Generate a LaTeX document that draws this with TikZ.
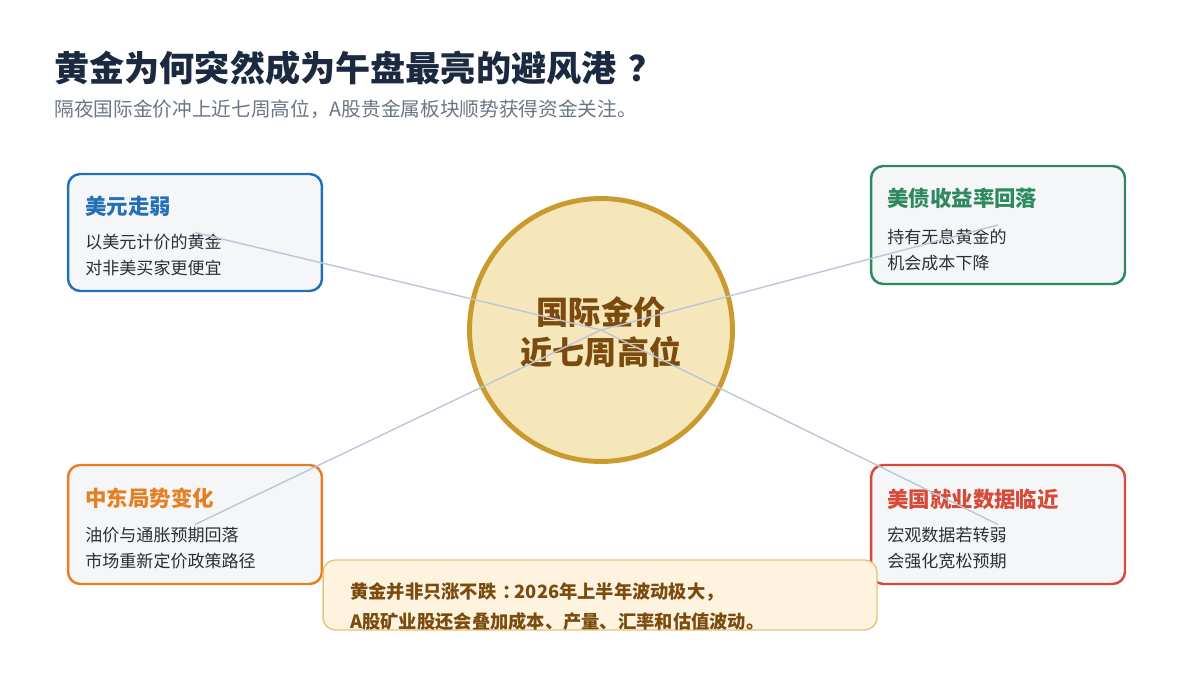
\documentclass[tikz,border=0pt]{standalone}
\usepackage{fontspec}
\setmainfont{Noto Sans CJK SC}
\usetikzlibrary{positioning}

\definecolor{titlenavy}{HTML}{1B2A41}
\definecolor{subgray}{HTML}{6B7685}
\definecolor{cardbg}{HTML}{F4F6F8}
\definecolor{bodytext}{HTML}{2B2F36}
\definecolor{usdblue}{HTML}{2470B6}
\definecolor{bondgreen}{HTML}{2E8A5E}
\definecolor{mideast}{HTML}{E67E22}
\definecolor{jobsred}{HTML}{D64A38}
\definecolor{goldfill}{HTML}{F5E7B9}
\definecolor{goldedge}{HTML}{C99A2E}
\definecolor{goldtext}{HTML}{7A4A0E}
\definecolor{notefill}{HTML}{FDF3DF}
\definecolor{noteedge}{HTML}{E9C27D}
\definecolor{linkgray}{HTML}{BCC6D8}

\begin{document}
\begin{tikzpicture}[x=0.02cm, y=-0.02cm,
  card/.style={draw=#1, line width=1.4pt, fill=cardbg, rounded corners=7pt,
    minimum width=5.08cm, minimum height=2.34cm, inner sep=0pt},
  cardtitle/.style={anchor=west, inner sep=0pt, text=#1,
    font=\fontsize{12.2}{14}\selectfont\bfseries},
  cardbody/.style={anchor=west, inner sep=0pt, align=left, text=bodytext,
    font=\fontsize{9.7}{14.4}\selectfont},
  link/.style={draw=linkgray, line width=0.8pt}]

  \useasboundingbox (0,0) rectangle (1200,675);

  % Heading
  \node[anchor=west, inner sep=0pt, text=titlenavy,
    font=\fontsize{20}{24}\selectfont\bfseries] (title) at (54,68)
    {黄金为何突然成为午盘最亮的避风港\kern0.35em？};
  \node[anchor=west, inner sep=0pt, text=subgray,
    font=\fontsize{11.2}{14}\selectfont] (subtitle) at (54,109)
    {隔夜国际金价冲上近七周高位，A股贵金属板块顺势获得资金关注。};

  % Centre
  \node[circle, draw=goldedge, line width=2.8pt, fill=goldfill,
    minimum size=5.26cm, inner sep=0pt] (gold) at (601,330) {};
  \node[align=center, text=goldtext, inner sep=0pt,
    font=\fontsize{18.3}{22.7}\selectfont\bfseries] (goldlabel) at (601,332)
    {国际金价\\近七周高位};

  % Four drivers
  \node[card=usdblue] (usd) at (195,232.5) {};
  \node[cardtitle=usdblue] (usdtitle) at (85,206) {美元走弱};
  \node[cardbody] (usdbody) at (85,255) {以美元计价的黄金\\对非美买家更便宜};

  \node[card=bondgreen, minimum height=2.36cm] (bond) at (998,225) {};
  \node[cardtitle=bondgreen] (bondtitle) at (887,198) {美债收益率回落};
  \node[cardbody] (bondbody) at (887,250) {持有无息黄金的\\机会成本下降};

  \node[card=mideast, minimum height=2.38cm] (east) at (195,524.5) {};
  \node[cardtitle=mideast] (easttitle) at (85,498) {中东局势变化};
  \node[cardbody] (eastbody) at (85,548) {油价与通胀预期回落\\市场重新定价政策路径};

  \node[card=jobsred, minimum height=2.38cm] (jobs) at (998,524.5) {};
  \node[cardtitle=jobsred] (jobstitle) at (887,499) {美国就业数据临近};
  \node[cardbody] (jobsbody) at (887,548) {宏观数据若转弱\\会强化宽松预期};

  % Connectors on top
  \draw[link] (usd.center) -- (gold.center);
  \draw[link] (bond.center) -- (gold.center);
  \draw[link] (east.center) -- (gold.center);
  \draw[link] (jobs.center) -- (gold.center);

  % Caveat note
  \node[draw=noteedge, line width=0.8pt, fill=notefill, rounded corners=7pt,
    minimum width=11.08cm, minimum height=1.4cm, inner sep=0pt] (note) at (600,595) {};
  \node[anchor=west, align=left, inner sep=0pt, text=goldtext,
    font=\fontsize{10.4}{17}\selectfont\bfseries] (notetext) at (350,607)
    {黄金并非只涨不跌\kern0.3em：\kern-0.3em2026年上半年波动极大，\\A股矿业股还会叠加成本、产量、汇率和估值波动。};
\end{tikzpicture}
\end{document}
